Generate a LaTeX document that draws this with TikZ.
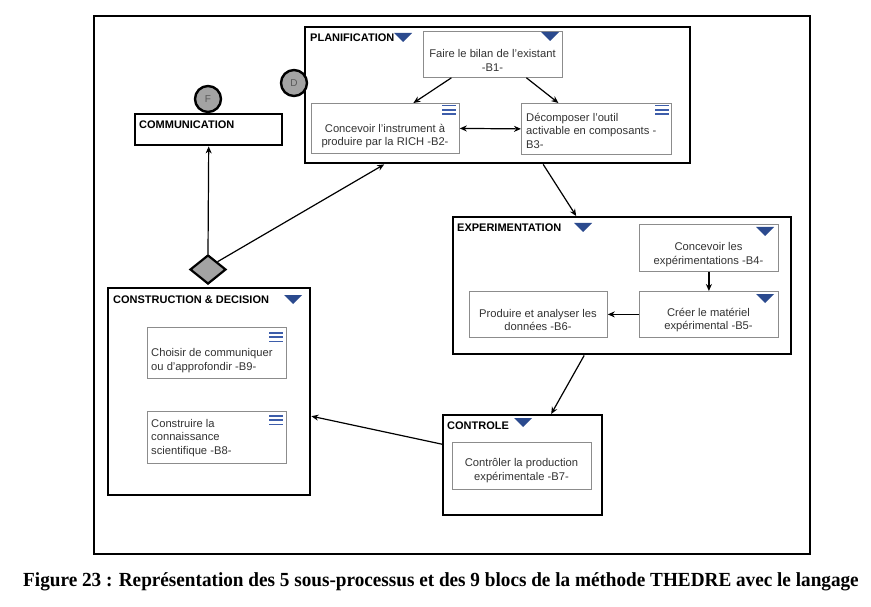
\documentclass[tikz,border=0pt]{standalone}
\usepackage{fontspec}
\setmainfont{Liberation Sans}
\newfontfamily\capfont{Liberation Serif}
\usetikzlibrary{arrows.meta,shapes.geometric}
\definecolor{thblue}{HTML}{2B4A8E}
\definecolor{thmenu}{HTML}{3D5DAA}
\definecolor{thgray}{HTML}{A3A3A3}
\definecolor{thline}{HTML}{8C8C8C}
\definecolor{thtext}{HTML}{333333}
\tikzset{
  proc/.style={draw, line width=2.4pt, anchor=north west, inner sep=0pt},
  blk/.style={draw=thline, line width=0.8pt, fill=white, anchor=north west, inner sep=0pt},
  title/.style={font=\fontsize{11}{13}\selectfont\bfseries, anchor=west, inner sep=0pt},
  txt/.style={font=\fontsize{11.2}{13.5}\selectfont, text=thtext, align=center, inner sep=0pt},
  evt/.style={circle, draw, line width=2.4pt, fill=thgray, minimum size=26pt, inner sep=0pt, font=\fontsize{10}{11}\selectfont, text=black!65},
  flow/.style={line width=1.2pt, -{Stealth[length=7pt,width=6pt]}},
  tri/.pic={\fill[thblue] (-9,4) -- (9,4) -- (0,-5) -- cycle;},
  menu/.pic={\draw[thmenu, line width=1.6pt] (-7,-4.3) -- (7,-4.3) (-7,0) -- (7,0) (-7,4.3) -- (7,4.3);},
}

\begin{document}
\begin{tikzpicture}[x=1pt,y=1pt,yscale=-1]
  \useasboundingbox (0,0) rectangle (871,607);
  \node[draw, line width=2pt, minimum width=716pt, minimum height=538pt, anchor=north west] (cadre) at (93,15) {};

  % sous-processus
  \node[proc, minimum width=385pt, minimum height=136pt] (plan) at (304,26) {};
  \node[proc, minimum width=338pt, minimum height=137pt] (exp) at (452,216) {};
  \node[proc, minimum width=159pt, minimum height=100pt] (ctrl) at (442,414) {};
  \node[proc, minimum width=202pt, minimum height=207pt] (cons) at (107,287) {};
  \node[proc, minimum width=147pt, minimum height=31pt] (comm) at (134,113) {};

  \node[title] (planlbl) at (310,38) {PLANIFICATION};
  \node[title] (explbl) at (457,228) {EXPERIMENTATION};
  \node[title] (ctrllbl) at (447,426) {CONTROLE};
  \node[title] (conslbl) at (113,300) {CONSTRUCTION \& DECISION};
  \node[title] (commlbl) at (139,125) {COMMUNICATION};
  \pic at (403,37) {tri};
  \pic at (583,227) {tri};
  \pic at (523,422) {tri};
  \pic at (293,299) {tri};

  % blocs
  \node[blk, minimum width=139pt, minimum height=46pt] (b1) at (423,31) {};
  \node[blk, minimum width=148pt, minimum height=50pt] (b2) at (311,103) {};
  \node[blk, minimum width=150pt, minimum height=51pt] (b3) at (521,103) {};
  \node[blk, minimum width=139pt, minimum height=47pt] (b4) at (639,224) {};
  \node[blk, minimum width=139pt, minimum height=46pt] (b5) at (639,291) {};
  \node[blk, minimum width=138pt, minimum height=46pt] (b6) at (469,291) {};
  \node[blk, minimum width=139pt, minimum height=47pt] (b7) at (452,442) {};
  \node[blk, minimum width=139pt, minimum height=51pt] (b9) at (147,327) {};
  \node[blk, minimum width=139pt, minimum height=52pt] (b8) at (147,411) {};
  \pic at (550,36) {tri};
  \pic at (765,231) {tri};
  \pic at (765,298) {tri};
  \pic at (449,110) {menu};
  \pic at (662,110) {menu};
  \pic at (276,337) {menu};
  \pic at (276,420) {menu};

  \node[txt] (t1) at (492.5,60.5) {Faire le bilan de l’existant\\-B1-};
  \node[txt] (t2) at (385,136) {Concevoir l’instrument à\\produire par la RICH -B2-};
  \node[txt, anchor=west, align=left] (t3) at (526,130.5) {Décomposer l’outil\\activable en composants -\\B3-};
  \node[txt] (t4) at (708.5,254.5) {Concevoir les\\expérimentations -B4-};
  \node[txt] (t5) at (708.5,320) {Créer le matériel\\expérimental -B5-};
  \node[txt] (t6) at (538,320) {Produire et analyser les\\données -B6-};
  \node[txt] (t7) at (521.5,470.5) {Contrôler la production\\expérimentale -B7-};
  \node[txt, anchor=west, align=left] (t9) at (151,360.5) {Choisir de communiquer\\ou d’approfondir -B9-};
  \node[txt, anchor=west, align=left] (t8) at (151,438) {Construire la\\connaissance\\scientifique -B8-};

  % debut, fin, decision
  \node[evt] (fin) at (208,99) {F};
  \node[evt] (deb) at (294,83) {D};
  \node[diamond, draw, line width=2.2pt, fill=thgray, minimum width=36pt, minimum height=29pt, inner sep=0pt] (dec) at (208,269.5) {};

  % flux
  \draw[flow] ([xshift=-41.5pt]b1.south) -- ([xshift=28pt]b2.north);
  \draw[flow] ([xshift=33.5pt]b1.south) -- ([xshift=-38pt]b3.north);
  \draw[line width=1.2pt, {Stealth[length=7pt,width=6pt]}-{Stealth[length=7pt,width=6pt]}] (b2.east) -- (b3.west);
  \draw[flow] ([xshift=45.5pt]plan.south) -- ([xshift=-46pt]exp.north);
  \draw[flow] (b4.south) -- (b5.north);
  \draw[flow] (b5.west) -- (b6.east);
  \draw[flow] ([xshift=-38pt]exp.south) -- ([xshift=28.5pt]ctrl.north);
  \draw[flow] ([yshift=-21pt]ctrl.west) -- ([yshift=24.5pt]cons.east);
  \draw[flow] (dec.north) -- (comm.south);
  \draw[flow] (dec.north east) -- ([xshift=-113.5pt]plan.south);

  \node[font=\capfont\fontsize{20}{24}\selectfont\bfseries, anchor=base, inner sep=0pt, xscale=0.96] (cap) at (441,586) {Figure 23 : Représentation des 5 sous-processus et des 9 blocs de la méthode THEDRE avec le langage};
\end{tikzpicture}
\end{document}
